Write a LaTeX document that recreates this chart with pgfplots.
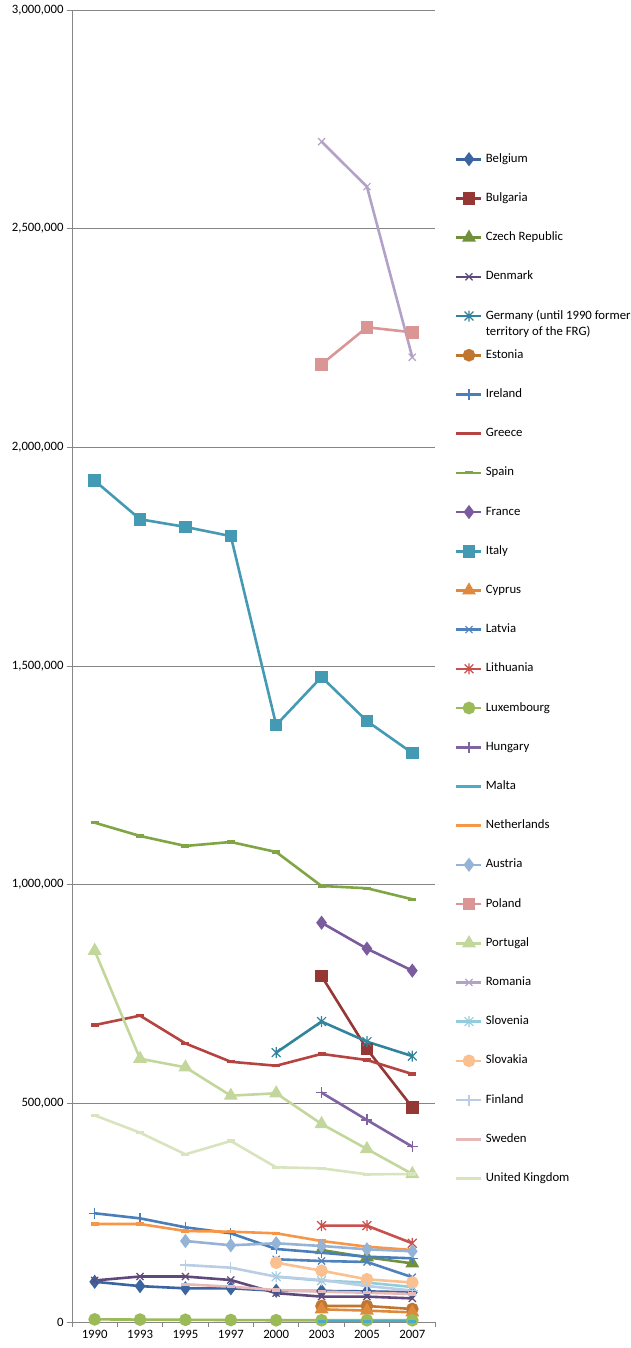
\documentclass[border=0pt]{standalone}
\usepackage{fontspec}
\setmainfont{Carlito}
\usepackage{pgfplots}
\pgfplotsset{compat=1.18}
\definecolor{cBE}{HTML}{3B64A0}
\definecolor{cBG}{HTML}{953735}
\definecolor{cCZ}{HTML}{71903B}
\definecolor{cDK}{HTML}{5F497A}
\definecolor{cDE}{HTML}{31849B}
\definecolor{cEE}{HTML}{C0762F}
\definecolor{cIE}{HTML}{4A7EBB}
\definecolor{cGR}{HTML}{B54441}
\definecolor{cES}{HTML}{80A544}
\definecolor{cFR}{HTML}{7A5C9E}
\definecolor{cIT}{HTML}{4499B3}
\definecolor{cCY}{HTML}{DE8A3E}
\definecolor{cLV}{HTML}{4F81BD}
\definecolor{cLT}{HTML}{C9504D}
\definecolor{cLU}{HTML}{9BBB59}
\definecolor{cHU}{HTML}{8064A2}
\definecolor{cMT}{HTML}{4BACC6}
\definecolor{cNL}{HTML}{F79646}
\definecolor{cAT}{HTML}{95B3D7}
\definecolor{cPL}{HTML}{D99694}
\definecolor{cPT}{HTML}{C3D69B}
\definecolor{cRO}{HTML}{B3A2C7}
\definecolor{cSI}{HTML}{93CDDD}
\definecolor{cSK}{HTML}{FAC090}
\definecolor{cFI}{HTML}{B9CDE5}
\definecolor{cSE}{HTML}{E6B9B8}
\definecolor{cUK}{HTML}{D7E4BD}
\definecolor{gridc}{HTML}{868686}
\pgfdeclareplotmark{xstar}{%
  \pgfpathmoveto{\pgfqpoint{-0.8\pgfplotmarksize}{-0.8\pgfplotmarksize}}%
  \pgfpathlineto{\pgfqpoint{0.8\pgfplotmarksize}{0.8\pgfplotmarksize}}%
  \pgfpathmoveto{\pgfqpoint{-0.8\pgfplotmarksize}{0.8\pgfplotmarksize}}%
  \pgfpathlineto{\pgfqpoint{0.8\pgfplotmarksize}{-0.8\pgfplotmarksize}}%
  \pgfpathmoveto{\pgfqpoint{0pt}{-\pgfplotmarksize}}%
  \pgfpathlineto{\pgfqpoint{0pt}{\pgfplotmarksize}}%
  \pgfusepathqstroke}
\pgfplotsset{
  ser/.style={color=#1, line width=2.6bp, mark options={solid, fill=#1}},
  thinmark/.style={mark options={solid, line width=1.2bp}},
  dashmark/.style={mark=-, mark size=4bp, mark options={solid, line width=3.2bp}},
}
\begin{document}
\begin{tikzpicture}
\useasboundingbox (-72bp,-26bp) rectangle (559bp,1322bp);
\begin{axis}[
  scale only axis, width=363bp, height=1312bp,
  xmin=-0.5, xmax=7.5, ymin=0, ymax=3000000,
  axis x line*=bottom, axis y line*=left,
  axis line style={color=gridc, line width=0.9bp},
  xtick={0,...,7},
  xticklabels={1990,1993,1995,1997,2000,2003,2005,2007},
  minor xtick={-0.5,0.5,1.5,2.5,3.5,4.5,5.5,6.5,7.5},
  major x tick style={draw=none},
  tick style={color=gridc, line width=0.9bp},
  tick align=outside,
  major tick length=5bp, minor tick length=5bp,
  ytick={0,500000,1000000,1500000,2000000,2500000,3000000},
  ymajorgrids, grid style={color=gridc, line width=0.9bp},
  scaled y ticks=false,
  yticklabel style={/pgf/number format/fixed, /pgf/number format/1000 sep={,}},
  /pgf/number format/assume math mode=true,
  tick label style={font=\fontsize{12.8}{14}\selectfont, text=black},
  clip=false,
  legend image code/.code={\draw[mark repeat=2, mark phase=2, #1] plot coordinates {(0bp,0bp) (12.5bp,0bp) (25bp,0bp)};},
  legend style={at={(axis description cs:1,1)}, anchor=north west, xshift=20bp, yshift=-143bp,
    draw=none, fill=none, inner sep=0pt, row sep=27.2bp,
    font=\fontsize{12.8}{17}\selectfont,
    nodes={inner sep=0pt, text height=9bp, text depth=3bp}},
  legend cell align=left,
]
\addplot[ser=cBE, mark=diamond*, mark size=5bp] coordinates {(0,92000)(1,82000)(2,77000)(3,77000)(4,71500)(5,71000)(6,70000)(7,68000)};
\addlegendentry{\hspace{3bp}Belgium}
\addplot[ser=cBG, mark=square*, mark size=5bp] coordinates {(5,791000)(6,624000)(7,491000)};
\addlegendentry{\hspace{3bp}Bulgaria}
\addplot[ser=cCZ, mark=triangle*, mark size=5.5bp] coordinates {(5,164500)(6,148000)(7,134000)};
\addlegendentry{\hspace{3bp}Czech Republic}
\addplot[ser=cDK, mark=x, mark size=5bp, thinmark] coordinates {(0,95000)(1,104000)(2,104000)(3,96000)(4,66000)(5,58000)(6,58000)(7,54000)};
\addlegendentry{\hspace{3bp}Denmark}
\addplot[ser=cDE, mark=xstar, mark size=5.5bp, thinmark] coordinates {(4,616000)(5,687000)(6,641000)(7,608000)};
\addlegendentry{\hspace{3bp}\smash{\begin{tabular}[t]{@{}l@{}}Germany (until 1990 former\\territory of the FRG)\end{tabular}}}
\addplot[ser=cEE, mark=*, mark size=5bp] coordinates {(5,36600)(6,36600)(7,29700)};
\addlegendentry{\hspace{3bp}Estonia}
\addplot[ser=cIE, mark=+, mark size=5.5bp, thinmark] coordinates {(0,248600)(1,237000)(2,216500)(3,202800)(4,167000)(5,158500)(6,149300)(7,145600)};
\addlegendentry{\hspace{3bp}Ireland}
\addplot[ser=cGR, dashmark] coordinates {(0,679000)(1,700500)(2,637000)(3,595000)(4,586000)(5,613000)(6,599000)(7,567000)};
\addlegendentry{\hspace{3bp}Greece}
\addplot[ser=cES, dashmark] coordinates {(0,1141700)(1,1111300)(2,1088500)(3,1097600)(4,1074700)(5,997000)(6,991800)(7,966600)};
\addlegendentry{\hspace{3bp}Spain}
\addplot[ser=cFR, mark=diamond*, mark size=5bp] coordinates {(5,913000)(6,853700)(7,803400)};
\addlegendentry{\hspace{3bp}France}
\addplot[ser=cIT, mark=square*, mark size=5bp] coordinates {(0,1923800)(1,1835500)(2,1818000)(3,1797000)(4,1365000)(5,1475000)(6,1374000)(7,1301000)};
\addlegendentry{\hspace{3bp}Italy}
\addplot[ser=cCY, mark=triangle*, mark size=5.5bp] coordinates {(5,29000)(6,26000)(7,22000)};
\addlegendentry{\hspace{3bp}Cyprus}
\addplot[ser=cLV, mark=x, mark size=5bp, thinmark] coordinates {(4,143400)(5,139500)(6,137200)(7,102500)};
\addlegendentry{\hspace{3bp}Latvia}
\addplot[ser=cLT, mark=xstar, mark size=5.5bp, thinmark] coordinates {(5,220300)(6,220300)(7,180000)};
\addlegendentry{\hspace{3bp}Lithuania}
\addplot[ser=cLU, mark=*, mark size=5bp] coordinates {(0,6000)(1,5500)(2,5000)(3,4500)(4,4000)(5,4000)(6,4000)(7,4000)};
\addlegendentry{\hspace{3bp}Luxembourg}
\addplot[ser=cHU, mark=+, mark size=5.5bp, thinmark] coordinates {(5,524400)(6,462000)(7,400900)};
\addlegendentry{\hspace{3bp}Hungary}
\addplot[ser=cMT, dashmark] coordinates {(5,2000)(6,2000)(7,2000)};
\addlegendentry{\hspace{3bp}Malta}
\addplot[ser=cNL, dashmark] coordinates {(0,224100)(1,224100)(2,208000)(3,206500)(4,202800)(5,185200)(6,172200)(7,164600)};
\addlegendentry{\hspace{3bp}Netherlands}
\addplot[ser=cAT, mark=diamond*, mark size=5bp] coordinates {(2,185200)(3,175400)(4,180000)(5,173800)(6,166200)(7,161700)};
\addlegendentry{\hspace{3bp}Austria}
\addplot[ser=cPL, mark=square*, mark size=5bp] coordinates {(5,2189900)(6,2274500)(7,2263000)};
\addlegendentry{\hspace{3bp}Poland}
\addplot[ser=cPT, mark=triangle*, mark size=5.5bp] coordinates {(0,849000)(1,602000)(2,582400)(3,517500)(4,523000)(5,452800)(6,395600)(7,338400)};
\addlegendentry{\hspace{3bp}Portugal}
\addplot[ser=cRO, mark=x, mark size=5bp, thinmark] coordinates {(5,2699000)(6,2596000)(7,2206000)};
\addlegendentry{\hspace{3bp}Romania}
\addplot[ser=cSI, mark=xstar, mark size=5.5bp, thinmark] coordinates {(4,103600)(5,94500)(6,90000)(7,80000)};
\addlegendentry{\hspace{3bp}Slovenia}
\addplot[ser=cSK, mark=*, mark size=5bp] coordinates {(4,135600)(5,117300)(6,97600)(7,90300)};
\addlegendentry{\hspace{3bp}Slovakia}
\addplot[ser=cFI, mark=+, mark size=5.5bp, thinmark] coordinates {(2,130300)(3,124200)(4,103600)(5,96000)(6,82300)(7,72000)};
\addlegendentry{\hspace{3bp}Finland}
\addplot[ser=cSE, dashmark] coordinates {(2,86200)(3,80700)(4,73200)(5,69300)(6,67000)(7,64000)};
\addlegendentry{\hspace{3bp}Sweden}
\addplot[ser=cUK, dashmark] coordinates {(0,472600)(1,432900)(2,383400)(3,413900)(4,353700)(5,351400)(6,337700)(7,338400)};
\addlegendentry{\hspace{3bp}United Kingdom}
\end{axis}
\end{tikzpicture}
\end{document}
